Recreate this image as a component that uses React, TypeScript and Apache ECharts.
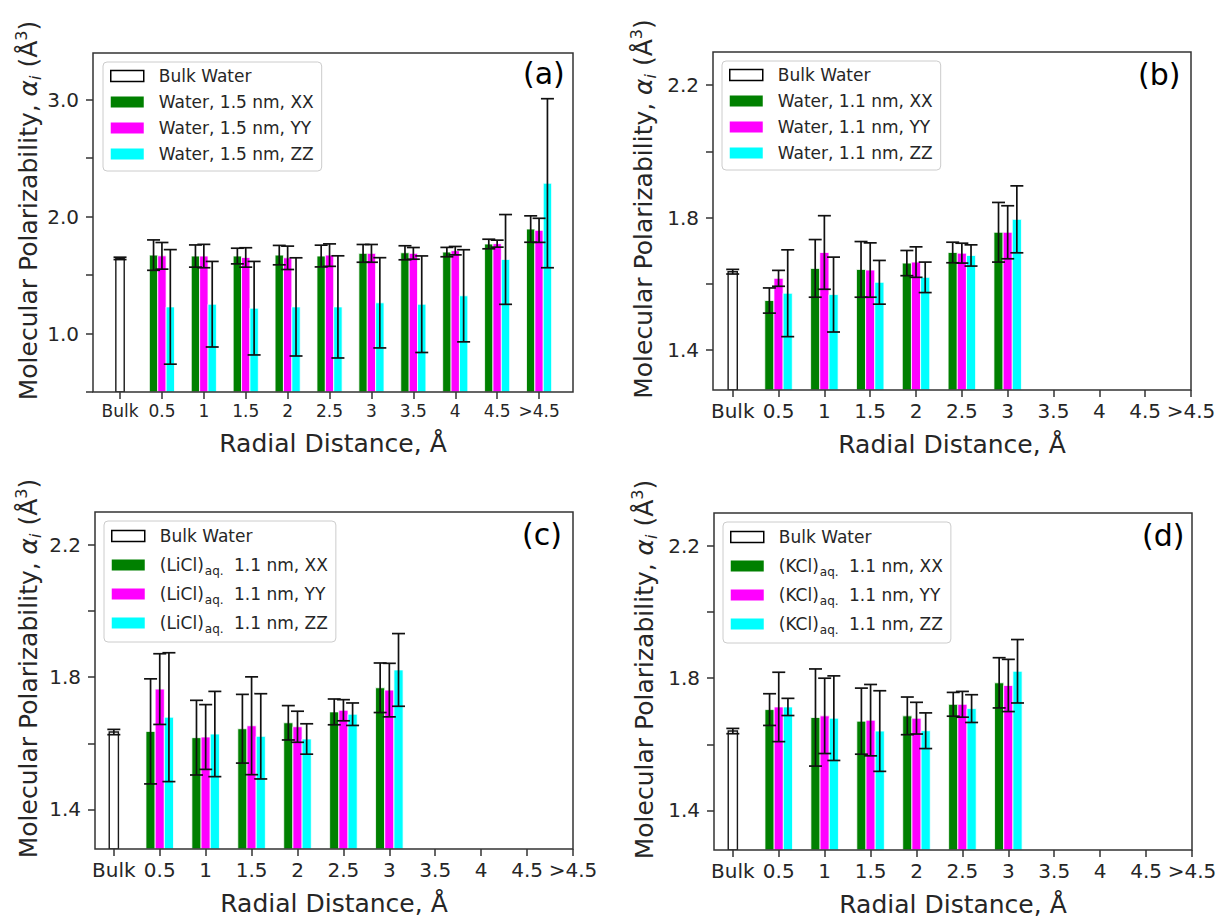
import React, { useEffect, useRef } from "react";
import * as echarts from "echarts";

const FONT = "DejaVu Sans";
const TXT = "#262626";
const AXC = "#333333";

const categories = ["Bulk", "0.5", "1", "1.5", "2", "2.5", "3", "3.5", "4", "4.5", ">4.5"];
const colors = ["#008000", "#ff00ff", "#00ffff"];

// Panel (a): Water, 1.5 nm (positions 0.5 .. >4.5)
const aBulk = [1.643];
const aBulkErr = [0.01];
const aXX = [1.671, 1.663, 1.663, 1.671, 1.663, 1.686, 1.691, 1.697, 1.766, 1.894];
const aXXErr = [0.13, 0.095, 0.067, 0.083, 0.093, 0.076, 0.06, 0.04, 0.041, 0.113];
const aYY = [1.665, 1.663, 1.651, 1.648, 1.671, 1.686, 1.686, 1.709, 1.769, 1.883];
const aYYErr = [0.114, 0.1, 0.083, 0.1, 0.096, 0.076, 0.05, 0.036, 0.03, 0.103];
const aZZ = [1.228, 1.251, 1.217, 1.228, 1.228, 1.263, 1.251, 1.323, 1.634, 2.286];
const aZZErr = [0.49, 0.366, 0.4, 0.42, 0.437, 0.386, 0.413, 0.394, 0.384, 0.723];

// Panel (b): Water, 1.1 nm (positions 0.5 .. 3)
const bBulk = [1.637];
const bBulkErr = [0.007];
const bXX = [1.55, 1.647, 1.644, 1.663, 1.695, 1.756];
const bXXErr = [0.038, 0.087, 0.084, 0.038, 0.031, 0.09];
const bYY = [1.617, 1.695, 1.642, 1.666, 1.693, 1.756];
const bYYErr = [0.024, 0.111, 0.082, 0.046, 0.03, 0.08];
const bZZ = [1.572, 1.568, 1.605, 1.62, 1.686, 1.795];
const bZZErr = [0.131, 0.113, 0.066, 0.046, 0.032, 0.101];

// Panel (c): (LiCl)aq. 1.1 nm
const cBulk = [1.634];
const cBulkErr = [0.008];
const cXX = [1.636, 1.617, 1.644, 1.662, 1.695, 1.768];
const cXXErr = [0.159, 0.113, 0.104, 0.052, 0.039, 0.075];
const cYY = [1.764, 1.619, 1.653, 1.65, 1.7, 1.761];
const cYYErr = [0.107, 0.098, 0.148, 0.047, 0.032, 0.081];
const cZZ = [1.679, 1.628, 1.621, 1.613, 1.688, 1.822];
const cZZErr = [0.195, 0.129, 0.129, 0.046, 0.034, 0.11];

// Panel (d): (KCl)aq. 1.1 nm
const dBulk = [1.64];
const dBulkErr = [0.008];
const dXX = [1.705, 1.681, 1.67, 1.686, 1.721, 1.786];
const dXXErr = [0.048, 0.147, 0.1, 0.057, 0.036, 0.076];
const dYY = [1.713, 1.686, 1.673, 1.679, 1.721, 1.778];
const dYYErr = [0.105, 0.114, 0.108, 0.048, 0.039, 0.079];
const dZZ = [1.713, 1.679, 1.64, 1.641, 1.708, 1.821];
const dZZErr = [0.026, 0.128, 0.122, 0.054, 0.042, 0.096];

const yTicksA = [0.5, 1, 1.5, 2, 2.5, 3];
const yLabelsA = [1, 2, 3];
const yTicksB = [1.4, 1.6, 1.8, 2.0, 2.2];
const yLabelsB = [1.4, 1.8, 2.2];
const xTickValues = [0, 1, 2, 3, 4, 5, 6, 7, 8, 9, 10];

const BAR_W = 0.2;
const OFFSETS = [-0.2, 0, 0.2];

type Panel = {
  label: string;
  grid: { left: number; top: number; width: number; height: number };
  xRange: [number, number];
  yRange: [number, number];
  yTicks: number[];
  yLabels: number[];
  xLabelSize: number;
  xNameGap: number;
  yNameGap: number;
  legendPos: { left: number; top: number };
  titlePos: { left: number; top: number };
  bulk: number[];
  bulkErr: number[];
  vals: number[][];
  errs: number[][];
  names: string[];
  legendLabels: string[];
  sub: boolean;
};

const panels: Panel[] = [
  {
    label: "(a)",
    grid: { left: 93, top: 53, width: 480, height: 339 },
    xRange: [-0.645, 10.81],
    yRange: [0.5, 3.4],
    yTicks: yTicksA,
    yLabels: yLabelsA,
    xLabelSize: 17,
    xNameGap: 36,
    yNameGap: 50,
    legendPos: { left: 103, top: 62 },
    titlePos: { left: 523, top: 58 },
    bulk: aBulk,
    bulkErr: aBulkErr,
    vals: [aXX, aYY, aZZ],
    errs: [aXXErr, aYYErr, aZZErr],
    names: ["Water, 1.5 nm, XX", "Water, 1.5 nm, YY", "Water, 1.5 nm, ZZ"],
    legendLabels: ["Water, 1.5 nm, XX", "Water, 1.5 nm, YY", "Water, 1.5 nm, ZZ"],
    sub: false,
  },
  {
    label: "(b)",
    grid: { left: 713, top: 52, width: 478, height: 338 },
    xRange: [-0.43, 10],
    yRange: [1.28, 2.3],
    yTicks: yTicksB,
    yLabels: yLabelsB,
    xLabelSize: 20,
    xNameGap: 39,
    yNameGap: 55,
    legendPos: { left: 722, top: 61 },
    titlePos: { left: 1138, top: 59 },
    bulk: bBulk,
    bulkErr: bBulkErr,
    vals: [bXX, bYY, bZZ],
    errs: [bXXErr, bYYErr, bZZErr],
    names: ["Water, 1.1 nm, XX", "Water, 1.1 nm, YY", "Water, 1.1 nm, ZZ"],
    legendLabels: ["Water, 1.1 nm, XX", "Water, 1.1 nm, YY", "Water, 1.1 nm, ZZ"],
    sub: false,
  },
  {
    label: "(c)",
    grid: { left: 95, top: 512, width: 478, height: 337 },
    xRange: [-0.41, 10],
    yRange: [1.28, 2.3],
    yTicks: yTicksB,
    yLabels: yLabelsB,
    xLabelSize: 20,
    xNameGap: 39,
    yNameGap: 52,
    legendPos: { left: 104, top: 521 },
    titlePos: { left: 522, top: 519 },
    bulk: cBulk,
    bulkErr: cBulkErr,
    vals: [cXX, cYY, cZZ],
    errs: [cXXErr, cYYErr, cZZErr],
    names: ["(LiCl)aq. 1.1 nm, XX", "(LiCl)aq. 1.1 nm, YY", "(LiCl)aq. 1.1 nm, ZZ"],
    legendLabels: ["(LiCl){sub|aq.} 1.1 nm, XX", "(LiCl){sub|aq.} 1.1 nm, YY", "(LiCl){sub|aq.} 1.1 nm, ZZ"],
    sub: true,
  },
  {
    label: "(d)",
    grid: { left: 714, top: 513, width: 478, height: 337 },
    xRange: [-0.41, 10],
    yRange: [1.28, 2.3],
    yTicks: yTicksB,
    yLabels: yLabelsB,
    xLabelSize: 20,
    xNameGap: 39,
    yNameGap: 55,
    legendPos: { left: 723, top: 522 },
    titlePos: { left: 1142, top: 520 },
    bulk: dBulk,
    bulkErr: dBulkErr,
    vals: [dXX, dYY, dZZ],
    errs: [dXXErr, dYYErr, dZZErr],
    names: ["(KCl)aq. 1.1 nm, XX", "(KCl)aq. 1.1 nm, YY", "(KCl)aq. 1.1 nm, ZZ"],
    legendLabels: ["(KCl){sub|aq.} 1.1 nm, XX", "(KCl){sub|aq.} 1.1 nm, YY", "(KCl){sub|aq.} 1.1 nm, ZZ"],
    sub: true,
  },
];

function barSeries(
  name: string,
  gi: number,
  positions: number[],
  vals: number[],
  errs: number[],
  offset: number,
  fill: string,
  isBulk: boolean
) {
  const data = vals.map((v, i) => [positions[i], v, errs[i]]);
  return {
    type: "custom",
    name,
    xAxisIndex: gi,
    yAxisIndex: gi,
    data,
    encode: { x: 0, y: 1 },
    clip: true,
    z: 2,
    itemStyle: { color: fill },
    renderItem: (params: any, api: any) => {
      const x = api.value(0) + offset;
      const v = api.value(1);
      const e = api.value(2);
      const cs = params.coordSys;
      const top = api.coord([x, v]);
      const w = api.size([BAR_W, 0])[0];
      const bottom = cs.y + cs.height;
      const lo = api.coord([x, v - e])[1];
      const hi = api.coord([x, v + e])[1];
      const cx = top[0];
      const es = { stroke: "#111111", lineWidth: 1.7 };
      return {
        type: "group",
        children: [
          {
            type: "rect",
            shape: { x: cx - w / 2, y: top[1], width: w, height: bottom - top[1] },
            style: isBulk
              ? { fill: "#ffffff", stroke: "#1a1a1a", lineWidth: 1.4 }
              : { fill, stroke: "#ffffff", lineWidth: 0.8 },
          },
          { type: "line", z2: 10, shape: { x1: cx, y1: lo, x2: cx, y2: hi }, style: es },
          { type: "line", z2: 10, shape: { x1: cx - 6.5, y1: lo, x2: cx + 6.5, y2: lo }, style: es },
          { type: "line", z2: 10, shape: { x1: cx - 6.5, y1: hi, x2: cx + 6.5, y2: hi }, style: es },
        ],
      };
    },
  };
}

function buildOption() {
  const grids: any[] = [];
  const xAxes: any[] = [];
  const yAxes: any[] = [];
  const legends: any[] = [];
  const titles: any[] = [];
  const series: any[] = [];

  panels.forEach((p, gi) => {
    grids.push({
      ...p.grid,
      show: true,
      borderColor: AXC,
      borderWidth: 1.5,
      backgroundColor: "transparent",
      containLabel: false,
      outerBoundsMode: "none",
      z: 5,
    });
    xAxes.push({
      type: "value",
      gridIndex: gi,
      position: "bottom",
      min: p.xRange[0],
      max: p.xRange[1],
      axisLine: { show: false, onZero: false },
      splitLine: { show: false },
      axisTick: {
        show: true,
        customValues: xTickValues,
        length: 7,
        lineStyle: { color: AXC, width: 1.5 },
      },
      axisLabel: {
        customValues: xTickValues,
        formatter: (v: number) => categories[Math.round(v)] ?? "",
        fontSize: p.xLabelSize,
        color: TXT,
        fontFamily: FONT,
        margin: p.xLabelSize === 17 ? 10 : 11,
      },
      name: "Radial Distance, Å",
      nameLocation: "middle",
      nameGap: p.xNameGap,
      nameTextStyle: { fontSize: 25, color: TXT, fontFamily: FONT, lineHeight: 30 },
    });
    yAxes.push({
      type: "value",
      gridIndex: gi,
      position: "left",
      min: p.yRange[0],
      max: p.yRange[1],
      axisLine: { show: false, onZero: false },
      splitLine: { show: false },
      axisTick: {
        show: true,
        customValues: p.yTicks,
        length: 7,
        lineStyle: { color: AXC, width: 1.5 },
      },
      axisLabel: {
        customValues: p.yLabels,
        formatter: (v: number) => v.toFixed(1),
        fontSize: 20,
        color: TXT,
        fontFamily: FONT,
        margin: 14,
      },
      name: "Molecular Polarizability, {it|α}{sub|i} (Å{sup|3})",
      nameLocation: "middle",
      nameRotate: 90,
      nameGap: p.yNameGap,
      nameTextStyle: {
        fontSize: 25,
        color: TXT,
        fontFamily: FONT,
        lineHeight: 30,
        padding: [0, 0, 0, 24],
        rich: {
          it: { fontSize: 25, fontStyle: "italic", color: TXT, fontFamily: FONT, lineHeight: 30 },
          sub: { fontSize: 16, fontStyle: "italic", color: TXT, fontFamily: FONT, lineHeight: 16, verticalAlign: "bottom" },
          sup: { fontSize: 16, color: TXT, fontFamily: FONT, lineHeight: 16, verticalAlign: "top" },
        },
      },
    });
    titles.push({
      text: p.label,
      left: p.titlePos.left,
      top: p.titlePos.top,
      padding: 0,
      textStyle: { fontSize: 30, fontWeight: "normal", color: "#000", fontFamily: FONT },
    });

    const labelMap: Record<string, string> = { "Bulk Water": "Bulk Water" };
    p.names.forEach((n, i) => (labelMap[n] = p.legendLabels[i]));

    legends.push({
      left: p.legendPos.left,
      top: p.legendPos.top,
      orient: "vertical",
      selectedMode: false,
      itemWidth: 33,
      itemHeight: 11,
      itemGap: p.sub ? 5 : 6,
      padding: p.sub ? [3, 8, 7, 7] : [4, 8, 7, 7],
      backgroundColor: "rgba(255,255,255,0.8)",
      borderColor: "#cccccc",
      borderWidth: 1,
      borderRadius: 4,
      data: [
        { name: "Bulk Water", icon: "rect", itemStyle: { color: "#ffffff", borderColor: "#000", borderWidth: 1.5 } },
        ...p.names.map((n, i) => ({ name: n, icon: "rect", itemStyle: { color: colors[i], borderWidth: 0 } })),
      ],
      formatter: (name: string) => labelMap[name] ?? name,
      textStyle: {
        fontSize: 17,
        color: TXT,
        fontFamily: FONT,
        lineHeight: p.sub ? 24 : 20,
        padding: [0, 0, 0, 10],
        rich: {
          sub: { fontSize: 12, color: TXT, fontFamily: FONT, lineHeight: 12, verticalAlign: "bottom", padding: [0, 5, 0, 1] },
        },
      },
    });

    series.push(barSeries("Bulk Water", gi, [0], p.bulk, p.bulkErr, 0, "#ffffff", true));
    const positions = p.vals[0].map((_, i) => i + 1);
    p.vals.forEach((vals, k) => {
      series.push(barSeries(p.names[k], gi, positions, vals, p.errs[k], OFFSETS[k], colors[k], false));
    });
  });

  return {
    animation: false,
    backgroundColor: "#ffffff",
    textStyle: { fontFamily: FONT },
    title: titles,
    grid: grids,
    xAxis: xAxes,
    yAxis: yAxes,
    legend: legends,
    series,
  };
}

export default function App() {
  const ref = useRef<HTMLDivElement>(null);
  useEffect(() => {
    document.body.style.margin = "0";
    document.body.style.overflow = "hidden";
    if (!ref.current) return;
    const chart = echarts.init(ref.current, null, { renderer: "svg" });
    chart.setOption(buildOption() as any);
    return () => chart.dispose();
  }, []);
  return <div ref={ref} style={{ width: 1220, height: 920 }} />;
}
